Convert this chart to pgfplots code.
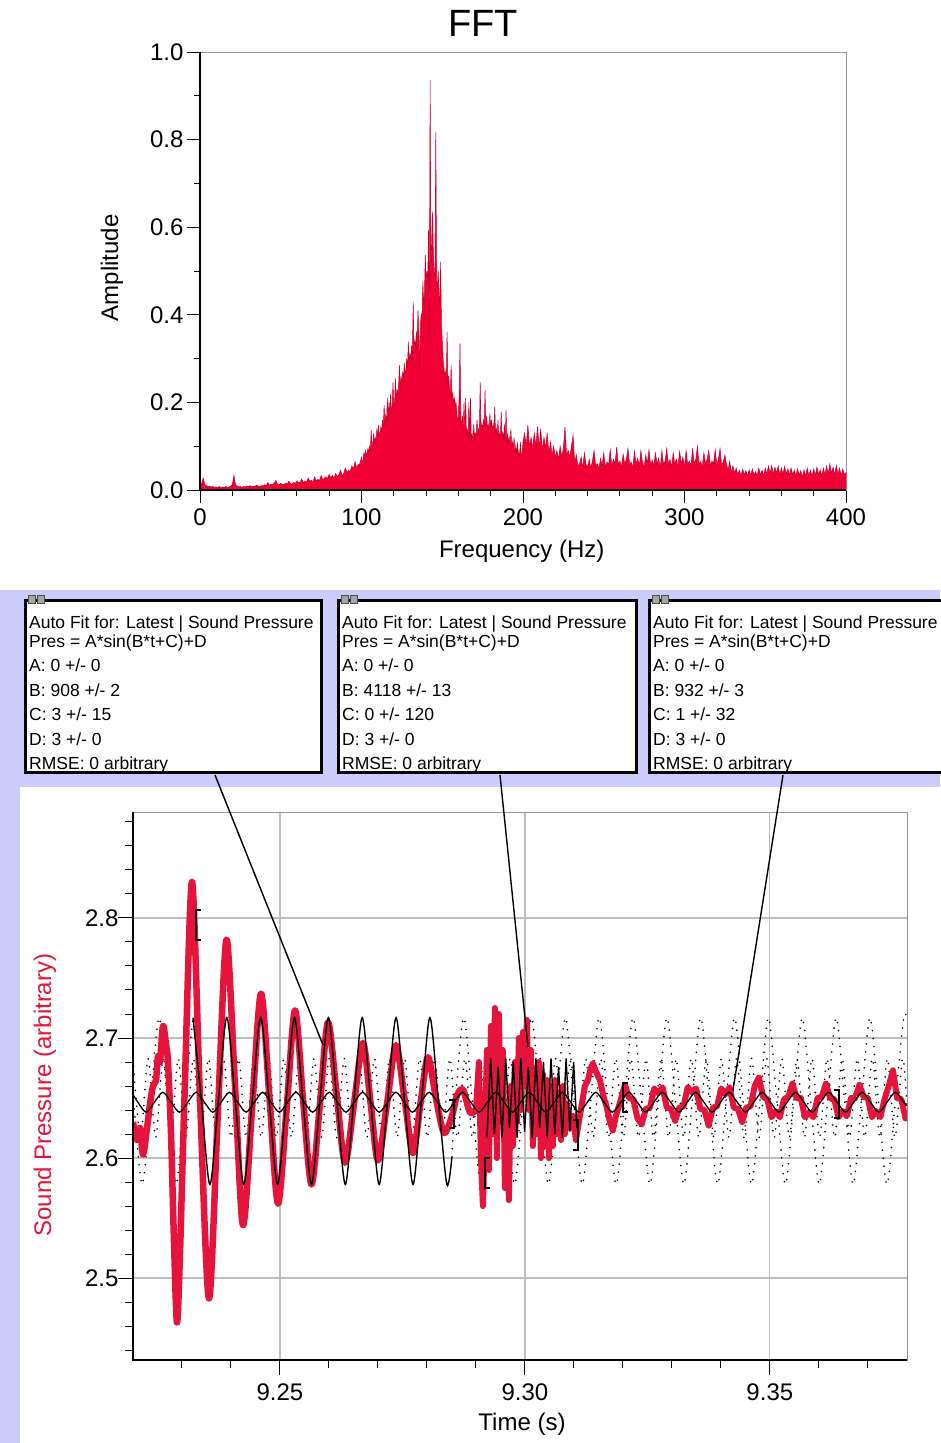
\documentclass[border=0pt]{standalone}
\usepackage{pgfplots}
\pgfplotsset{compat=1.18}
\usepackage{fontspec}
\setmainfont{Liberation Sans}
\definecolor{fftred}{RGB}{240,0,52}
\definecolor{spred}{RGB}{228,20,60}
\definecolor{lav}{RGB}{204,204,250}
\definecolor{gridgray}{RGB}{190,190,190}
\definecolor{framegray}{RGB}{150,150,150}
\newcommand\fs[1]{\fontsize{#1}{#1}\selectfont}
\begin{document}
\begin{tikzpicture}
\path[use as bounding box] (0pt,0pt) rectangle (940pt,-1443pt);
\begin{scope}[x=1pt,y=-1pt]
\fill[white] (0,0) rectangle (940,1443);
\fill[lav] (0,590) rectangle (940,1443);
\fill[white] (20,787) rectangle (940,1443);
\end{scope}
% ---------------- FFT ----------------
\begin{axis}[
  at={(200pt,-490pt)}, anchor=south west,
  width=646pt, height=438pt, scale only axis,
  xmin=0, xmax=400, ymin=0, ymax=1,
  xtick={0,100,200,300,400},
  ytick={0,0.2,0.4,0.6,0.8,1.0},
  minor xtick={20,40,60,80,120,140,160,180,220,240,260,280,320,340,360,380},
  minor ytick={0.1,0.3,0.5,0.7,0.9},
  tick pos=left, tick align=outside,
  major tick length=13pt, minor tick length=6pt,
  every tick/.style={black, line width=1pt},
  axis line style={draw=framegray, line width=1pt},
  /pgf/number format/assume math mode=true,
  tick label style={font=\fs{24}},
  xticklabel style={yshift=-2pt},
  yticklabel style={/pgf/number format/.cd, fixed, fixed zerofill, precision=1},
  scaled ticks=false,
  title={FFT},
  title style={at={(axis description cs:0.438,1.052)}, anchor=center, font=\fs{38}},
  xlabel={Frequency (Hz)}, ylabel={Amplitude},
  every axis x label/.style={at={(axis description cs:0.498,-0.1393)}, anchor=center, font=\fs{24}},
  every axis y label/.style={at={(axis description cs:-0.1362,0.507)}, anchor=center, rotate=90, font=\fs{24}},
  after end axis/.code={\draw[black, line width=1.2pt] (rel axis cs:0,1) -- (rel axis cs:0,0) -- (rel axis cs:1,0);},
]
\addplot[draw=fftred!85!black, line width=0.5pt, fill=fftred] coordinates {
(0,0.01)(1,0.015)(2,0.027)(3,0.012)(4,0.01)(5,0.008)(6,0.009)(7,0.007)(8,0.008)(9,0.006)(10,0.007)(11,0.006)(12,0.008)(13,0.005)(14,0.007)(15,0.006)(16,0.008)(17,0.006)(18,0.007)(19,0.009)(20,0.012)(21,0.034)(22,0.012)(23,0.009)(24,0.007)(25,0.008)(26,0.006)(27,0.008)(28,0.007)(29,0.009)(30,0.008)(31,0.01)(32,0.007)(33,0.009)(34,0.008)(35,0.011)(36,0.009)(37,0.008)(38,0.01)(39,0.009)(40,0.012)(41,0.01)(42,0.017)(43,0.011)(44,0.013)(45,0.012)(46,0.016)(47,0.022)(48,0.013)(49,0.012)(50,0.015)(51,0.013)(52,0.012)(53,0.016)(54,0.014)(55,0.02)(56,0.015)(57,0.013)(58,0.017)(59,0.015)(60,0.021)(61,0.016)(62,0.018)(63,0.025)(64,0.016)(65,0.02)(66,0.018)(67,0.027)(68,0.02)(69,0.022)(70,0.019)(71,0.03)(72,0.021)(73,0.024)(74,0.022)(75,0.033)(76,0.023)(77,0.027)(78,0.03)(79,0.026)(80,0.036)(81,0.028)(82,0.033)(83,0.027)(84,0.038)(85,0.03)(86,0.035)(87,0.045)(88,0.033)(89,0.038)(90,0.05)(91,0.04)(92,0.045)(93,0.042)(94,0.055)(95,0.048)(96,0.065)(97,0.05)(98,0.058)(99,0.06)
(100.0,0.075)(100.5,0.06)(101.0,0.07)(101.5,0.085)(102.0,0.075)(102.5,0.09)(103.0,0.08)(103.5,0.085)(104.0,0.095)(104.5,0.085)(105.0,0.1)(105.5,0.09)(106.0,0.137)(106.5,0.1)(107.0,0.105)(107.5,0.13)(108.0,0.105)(108.5,0.12)(109.0,0.11)(109.5,0.14)(110.0,0.12)(110.5,0.148)(111.0,0.125)(111.5,0.13)(112.0,0.145)(112.5,0.13)(113.0,0.16)(113.5,0.14)(114.0,0.194)(114.5,0.15)(115.0,0.17)(115.5,0.155)(116.0,0.21)(116.5,0.165)(117.0,0.2)(117.5,0.17)(118.0,0.22)(118.5,0.18)(119.0,0.19)(119.5,0.245)(120.0,0.195)(120.5,0.2)(121.0,0.255)(121.5,0.205)(122.0,0.23)(122.5,0.215)(123.0,0.24)(123.5,0.285)(124.0,0.23)(124.5,0.26)(125.0,0.24)(125.5,0.27)(126.0,0.255)(126.5,0.29)(127.0,0.26)(127.5,0.275)(128.0,0.3)(128.5,0.28)(129.0,0.339)(129.5,0.29)(130.0,0.31)(130.5,0.3)(131.0,0.33)(131.5,0.31)(132.0,0.43)(132.5,0.32)(133.0,0.34)(133.5,0.33)(134.0,0.36)(134.5,0.35)(135.0,0.41)(135.5,0.36)(136.0,0.27)(136.5,0.38)(137.0,0.4)(137.5,0.39)(138.0,0.476)(138.5,0.42)(139.0,0.45)(139.5,0.537)(140.0,0.47)(140.5,0.5)(141.0,0.48)(141.5,0.594)(142.0,0.33)(142.5,0.936)(143.0,0.52)(143.5,0.56)(144.0,0.635)(144.5,0.54)(145.0,0.5)(145.5,0.47)(146.0,0.818)(146.5,0.48)(147.0,0.46)(147.5,0.5)(148.0,0.45)(148.5,0.42)(149.0,0.52)(149.5,0.38)(150.0,0.34)(150.5,0.3)(151.0,0.28)(151.5,0.26)(152.0,0.27)(152.5,0.25)(153.0,0.361)(153.5,0.24)(154.0,0.26)(154.5,0.23)(155.0,0.22)(155.5,0.285)(156.0,0.21)(156.5,0.22)(157.0,0.2)(157.5,0.21)(158.0,0.19)(158.5,0.2)(159.0,0.18)(159.5,0.15)(160.0,0.17)(160.5,0.22)(161.0,0.335)(161.5,0.16)(162.0,0.15)(162.5,0.17)(163.0,0.14)(163.5,0.2)(164.0,0.13)(164.5,0.21)(165.0,0.12)(165.5,0.14)(166.0,0.115)(166.5,0.2)(167.0,0.12)(167.5,0.21)(168.0,0.11)(168.5,0.13)(169.0,0.105)(169.5,0.15)(170.0,0.12)(170.5,0.13)(171.0,0.125)(171.5,0.16)(172.0,0.13)(172.5,0.14)(173.0,0.135)(173.5,0.247)(174.0,0.135)(174.5,0.15)(175.0,0.14)(175.5,0.16)(176.0,0.145)(176.5,0.228)(177.0,0.14)(177.5,0.17)(178.0,0.14)(178.5,0.15)(179.0,0.135)(179.5,0.175)(180.0,0.14)(180.5,0.16)(181.0,0.135)(181.5,0.15)(182.0,0.13)(182.5,0.19)(183.0,0.13)(183.5,0.14)(184.0,0.125)(184.5,0.16)(185.0,0.12)(185.5,0.13)(186.0,0.12)(186.5,0.179)(187.0,0.115)(187.5,0.13)(188.0,0.115)(188.5,0.15)(189.0,0.11)(189.5,0.183)(190.0,0.11)(190.5,0.13)(191.0,0.105)(191.5,0.12)(192.0,0.1)(192.5,0.14)(193.0,0.1)(193.5,0.11)(194.0,0.095)(194.5,0.12)(195.0,0.085)(195.5,0.1)(196.0,0.08)(196.5,0.11)(197.0,0.075)(197.5,0.09)(198.0,0.07)(198.5,0.11)(199.0,0.075)(199.5,0.085)
(200,0.11)(201,0.13)(202,0.1)(203,0.148)(204,0.1)(205,0.12)(206,0.095)(207,0.13)(208,0.1)(209,0.145)(210,0.095)(211,0.14)(212,0.09)(213,0.12)(214,0.095)(215,0.13)(216,0.085)(217,0.11)(218,0.08)(219,0.1)(220,0.075)(221,0.09)(222,0.07)(223,0.1)(224,0.075)(225,0.095)(226,0.144)(227,0.08)(228,0.09)(229,0.075)(230,0.1)(231,0.125)(232,0.062)(233,0.08)(234,0.055)(235,0.06)(236,0.075)(237,0.05)(238,0.085)(239,0.058)(240,0.052)(241,0.07)(242,0.05)(243,0.066)(244,0.09)(245,0.055)(246,0.06)(247,0.048)(248,0.072)(249,0.056)(250,0.085)(251,0.052)(252,0.064)(253,0.058)(254,0.092)(255,0.055)(256,0.07)(257,0.06)(258,0.098)(259,0.058)(260,0.066)(261,0.052)(262,0.082)(263,0.06)(264,0.07)(265,0.095)(266,0.058)(267,0.064)(268,0.05)(269,0.088)(270,0.06)(271,0.072)(272,0.055)(273,0.09)(274,0.062)(275,0.052)(276,0.08)(277,0.06)(278,0.092)(279,0.058)(280,0.068)(281,0.055)(282,0.085)(283,0.06)(284,0.072)(285,0.05)(286,0.09)(287,0.058)(288,0.066)(289,0.094)(290,0.058)(291,0.07)(292,0.052)(293,0.085)(294,0.06)(295,0.07)(296,0.055)(297,0.088)(298,0.06)(299,0.075)(300,0.052)(301,0.09)(302,0.058)(303,0.066)(304,0.055)(305,0.095)(306,0.06)(307,0.07)(308,0.1)(309,0.058)(310,0.065)(311,0.052)(312,0.085)(313,0.06)(314,0.07)(315,0.09)(316,0.055)(317,0.066)(318,0.06)(319,0.092)(320,0.058)(321,0.07)(322,0.095)(323,0.056)(324,0.064)(325,0.08)(326,0.058)(327,0.045)(328,0.065)(329,0.04)(330,0.055)(331,0.038)(332,0.05)(333,0.036)(334,0.045)(335,0.033)(336,0.048)(337,0.035)(338,0.044)(339,0.032)(340,0.046)(341,0.033)(342,0.048)(343,0.035)(344,0.042)(345,0.032)(346,0.05)(347,0.035)(348,0.045)(349,0.033)(350,0.05)(351,0.036)(352,0.055)(353,0.038)(354,0.056)(355,0.036)(356,0.052)(357,0.038)(358,0.055)(359,0.035)(360,0.05)(361,0.036)(362,0.054)(363,0.037)(364,0.048)(365,0.034)(366,0.05)(367,0.035)(368,0.045)(369,0.032)(370,0.048)(371,0.034)(372,0.044)(373,0.03)(374,0.046)(375,0.032)(376,0.05)(377,0.033)(378,0.045)(379,0.031)(380,0.048)(381,0.034)(382,0.052)(383,0.035)(384,0.046)(385,0.032)(386,0.05)(387,0.035)(388,0.055)(389,0.036)(390,0.06)(391,0.038)(392,0.052)(393,0.034)(394,0.056)(395,0.036)(396,0.05)(397,0.033)(398,0.048)(399,0.035)(400,0.04)
} \closedcycle;
\end{axis}
% ---------------- Sound pressure ----------------
\begin{axis}[
  at={(133pt,-1360pt)}, anchor=south west,
  width=774pt, height=548pt, scale only axis,
  xmin=9.22, xmax=9.378, ymin=2.4317, ymax=2.8883,
  xtick={9.25,9.30,9.35}, ytick={2.5,2.6,2.7,2.8},
  minor xtick={9.23,9.24,9.26,9.27,9.28,9.29,9.31,9.32,9.33,9.34,9.36,9.37},
  minor ytick={2.44,2.46,2.48,2.52,2.54,2.56,2.58,2.62,2.64,2.66,2.68,2.72,2.74,2.76,2.78,2.82,2.84,2.86,2.88},
  tick pos=left, tick align=outside,
  major tick length=15pt, minor tick length=8pt,
  every tick/.style={black, line width=1pt},
  grid=major, major grid style={gridgray, line width=1.2pt},
  axis line style={draw=framegray, line width=1pt},
  /pgf/number format/assume math mode=true,
  tick label style={font=\fs{24}},
  xticklabel style={yshift=-5pt, /pgf/number format/.cd, fixed, fixed zerofill, precision=2},
  yticklabel style={xshift=4pt, /pgf/number format/.cd, fixed, fixed zerofill, precision=1},
  scaled ticks=false,
  xlabel={Time (s)}, ylabel={Sound Pressure (arbitrary)},
  every axis x label/.style={at={(axis description cs:0.5026,-0.1168)}, anchor=center, font=\fs{24}},
  every axis y label/.style={at={(axis description cs:-0.1137,0.4836)}, anchor=center, rotate=90, font=\fs{24}, text=spred},
  after end axis/.code={\draw[black, line width=1.2pt] (rel axis cs:0,1) -- (rel axis cs:0,0) -- (rel axis cs:1,0);},
]
% dotted extensions of fits
\addplot[black, line width=1.8pt, line cap=round, dash pattern=on 0pt off 8pt, smooth] coordinates {
(9.22000,2.683)(9.22154,2.617)(9.22308,2.683)(9.22462,2.617)(9.22616,2.683)(9.22770,2.617)(9.22924,2.683)(9.23078,2.617)(9.23232,2.683)(9.23386,2.617)(9.23540,2.683)(9.23694,2.617)(9.23848,2.683)(9.24002,2.617)(9.24156,2.683)(9.24310,2.617)(9.24464,2.683)(9.24618,2.617)(9.24772,2.683)(9.24926,2.617)(9.25080,2.683)(9.25234,2.617)(9.25388,2.683)(9.25542,2.617)(9.25696,2.683)(9.25850,2.617)(9.26004,2.683)(9.26158,2.617)(9.26312,2.683)(9.26466,2.617)(9.26620,2.683)(9.26774,2.617)(9.26928,2.683)(9.27082,2.617)(9.27236,2.683)(9.27390,2.617)(9.27544,2.683)(9.27698,2.617)(9.27852,2.683)(9.28006,2.617)(9.28160,2.683)(9.28314,2.617)(9.28468,2.683)(9.28622,2.617)(9.28776,2.683)(9.28930,2.617)(9.29084,2.683)(9.29238,2.617)(9.29392,2.683)(9.29546,2.617)(9.29700,2.683)(9.29854,2.617)(9.30008,2.683)(9.30162,2.617)(9.30316,2.683)(9.30470,2.617)(9.30624,2.683)(9.30778,2.617)(9.30932,2.683)(9.31086,2.617)(9.31240,2.683)(9.31394,2.617)(9.31548,2.683)(9.31702,2.617)(9.31856,2.683)(9.32010,2.617)(9.32164,2.683)(9.32318,2.617)(9.32472,2.683)(9.32626,2.617)(9.32780,2.683)(9.32934,2.617)(9.33088,2.683)(9.33242,2.617)(9.33396,2.683)(9.33550,2.617)(9.33704,2.683)(9.33858,2.617)(9.34012,2.683)(9.34166,2.617)(9.34320,2.683)(9.34474,2.617)(9.34628,2.683)(9.34782,2.617)(9.34936,2.683)(9.35090,2.617)(9.35244,2.683)(9.35398,2.617)(9.35552,2.683)(9.35706,2.617)(9.35860,2.683)(9.36014,2.617)(9.36168,2.683)(9.36322,2.617)(9.36476,2.683)(9.36630,2.617)(9.36784,2.683)(9.36938,2.617)(9.37092,2.683)(9.37246,2.617)(9.37400,2.683)(9.37554,2.617)(9.37708,2.683)(9.378,2.644)};
\addplot[black, line width=1.8pt, line cap=round, dash pattern=on 0pt off 8pt, smooth] coordinates {
(9.22014,2.6475)(9.22187,2.578)(9.22360,2.6475)(9.22533,2.717)(9.22706,2.6475)(9.22878,2.578)(9.23051,2.6475)(9.23224,2.717)};
\addplot[black, line width=1.8pt, line cap=round, dash pattern=on 0pt off 8pt, smooth] coordinates {
(9.2851,2.601)(9.28579,2.6475)(9.28752,2.717)(9.28925,2.6475)(9.29098,2.578)(9.29270,2.6475)(9.29443,2.717)(9.29616,2.6475)(9.29789,2.578)(9.29961,2.6475)(9.30134,2.717)(9.30307,2.6475)(9.30480,2.578)(9.30652,2.6475)(9.30825,2.717)(9.30998,2.6475)(9.31171,2.578)(9.31343,2.6475)(9.31516,2.717)(9.31689,2.6475)(9.31862,2.578)(9.32034,2.6475)(9.32207,2.717)(9.32380,2.6475)(9.32553,2.578)(9.32725,2.6475)(9.32898,2.717)(9.33071,2.6475)(9.33244,2.578)(9.33416,2.6475)(9.33589,2.717)(9.33762,2.6475)(9.33935,2.578)(9.34107,2.6475)(9.34280,2.717)(9.34453,2.6475)(9.34626,2.578)(9.34798,2.6475)(9.34971,2.717)(9.35144,2.6475)(9.35317,2.578)(9.35489,2.6475)(9.35662,2.717)(9.35835,2.6475)(9.36008,2.578)(9.36180,2.6475)(9.36353,2.717)(9.36526,2.6475)(9.36699,2.578)(9.36871,2.6475)(9.37044,2.717)(9.37217,2.6475)(9.37390,2.578)(9.37562,2.6475)(9.37735,2.717)(9.378,2.714)};
% measured sound pressure
\addplot[spred, line width=6.5pt, line join=round, smooth] coordinates {
(9.22000,2.630)(9.22082,2.615)(9.22143,2.625)(9.22204,2.603)(9.22286,2.625)(9.22347,2.645)(9.22408,2.660)(9.22469,2.665)(9.22510,2.685)(9.22551,2.680)(9.22612,2.710)(9.22673,2.695)(9.22714,2.680)(9.22776,2.620)(9.22837,2.530)(9.22898,2.463)(9.22959,2.520)(9.23051,2.650)(9.23204,2.830)(9.23367,2.650)(9.23551,2.483)(9.23735,2.640)(9.23908,2.782)(9.24082,2.660)(9.24245,2.544)(9.24429,2.640)(9.24612,2.737)(9.24786,2.650)(9.24959,2.562)(9.25133,2.640)(9.25306,2.723)(9.25469,2.650)(9.25643,2.578)(9.25816,2.645)(9.25980,2.713)(9.26153,2.655)(9.26327,2.596)(9.26510,2.645)(9.26694,2.696)(9.26847,2.647)(9.27000,2.598)(9.27184,2.645)(9.27367,2.694)(9.27541,2.650)(9.27714,2.604)(9.27867,2.645)(9.28020,2.684)(9.28184,2.650)(9.28347,2.621)(9.28510,2.635)(9.28612,2.652)(9.28735,2.657)(9.28878,2.638)(9.29000,2.640)};
\addplot[spred, line width=6pt, line join=round] coordinates {
(9.29000,2.64)(9.29061,2.68)(9.29102,2.60)(9.29143,2.56)(9.29184,2.62)(9.29224,2.69)(9.29265,2.59)(9.29306,2.71)(9.29347,2.62)(9.29388,2.725)(9.29429,2.60)(9.29469,2.72)(9.29510,2.63)(9.29551,2.69)(9.29592,2.575)(9.29633,2.64)(9.29673,2.565)(9.29714,2.66)(9.29755,2.61)(9.29796,2.68)(9.29837,2.63)(9.29878,2.70)(9.29918,2.64)(9.29959,2.705)(9.30000,2.66)(9.30041,2.715)(9.30082,2.64)(9.30122,2.69)(9.30163,2.61)(9.30204,2.675)(9.30245,2.62)(9.30286,2.68)(9.30327,2.60)(9.30367,2.67)(9.30408,2.61)(9.30449,2.665)(9.30490,2.60)(9.30531,2.66)(9.30571,2.61)(9.30612,2.665)(9.30653,2.62)(9.30694,2.655)(9.30735,2.615)(9.30776,2.66)(9.30816,2.62)(9.30857,2.645)(9.30918,2.625)(9.30980,2.635)(9.31041,2.615)(9.31102,2.63)(9.31163,2.645)(9.31224,2.66)(9.31286,2.665)(9.31347,2.675)(9.31388,2.679)(9.31449,2.672)(9.31531,2.665)(9.31612,2.65)(9.31673,2.642)(9.31735,2.63)(9.31796,2.623)(9.31857,2.635)(9.31939,2.646)
(9.32041,2.661)(9.32126,2.650)(9.32212,2.649)(9.32297,2.633)(9.32383,2.628)(9.32468,2.641)(9.32554,2.642)(9.32639,2.658)(9.32725,2.654)(9.32810,2.659)(9.32896,2.642)(9.32981,2.641)(9.33067,2.631)(9.33152,2.642)(9.33238,2.643)(9.33323,2.659)(9.33409,2.655)(9.33494,2.658)(9.33580,2.641)(9.33665,2.640)(9.33751,2.627)(9.33836,2.642)(9.33922,2.643)(9.34007,2.658)(9.34093,2.653)(9.34178,2.659)(9.34264,2.642)(9.34349,2.641)(9.34435,2.630)(9.34520,2.642)(9.34606,2.643)(9.34691,2.660)(9.34777,2.667)(9.34862,2.651)(9.34948,2.649)(9.35033,2.634)(9.35119,2.639)(9.35204,2.634)(9.35290,2.649)(9.35375,2.651)(9.35461,2.662)(9.35546,2.650)(9.35632,2.650)(9.35717,2.634)(9.35803,2.638)(9.35888,2.634)(9.35974,2.650)(9.36059,2.651)(9.36145,2.662)(9.36230,2.650)(9.36316,2.649)(9.36401,2.634)(9.36487,2.639)(9.36572,2.635)(9.36658,2.650)(9.36743,2.650)(9.36829,2.661)(9.36914,2.651)(9.37000,2.650)(9.37085,2.634)(9.37171,2.639)(9.37256,2.634)(9.37342,2.649)(9.37427,2.660)(9.37513,2.673)(9.37598,2.650)(9.37684,2.649)(9.37769,2.633)(9.37800,2.636)};
% fit 1 (solid)
\addplot[black, line width=1.4pt, smooth] coordinates {
(9.23224,2.717)(9.23397,2.6475)(9.23570,2.578)(9.23742,2.6475)(9.23915,2.717)(9.24088,2.6475)(9.24261,2.578)(9.24433,2.6475)(9.24606,2.717)(9.24779,2.6475)(9.24952,2.578)(9.25124,2.6475)(9.25297,2.717)(9.25470,2.6475)(9.25643,2.578)(9.25815,2.6475)(9.25988,2.717)(9.26161,2.6475)(9.26334,2.578)(9.26506,2.6475)(9.26679,2.717)(9.26852,2.6475)(9.27025,2.578)(9.27197,2.6475)(9.27370,2.717)(9.27543,2.6475)(9.27716,2.578)(9.27888,2.6475)(9.28061,2.717)(9.28234,2.6475)(9.28407,2.578)(9.2851,2.601)};
% fit 2 (solid)
\addplot[black, line width=1.4pt] coordinates {
(9.29224,2.617)(9.29301,2.683)(9.29378,2.620)(9.29455,2.676)(9.29532,2.617)(9.29609,2.683)(9.29686,2.625)(9.29763,2.680)(9.29840,2.617)(9.29917,2.683)(9.29994,2.622)(9.30071,2.676)(9.30148,2.617)(9.30225,2.683)(9.30302,2.625)(9.30379,2.680)(9.30456,2.617)(9.30533,2.683)(9.30610,2.620)(9.30687,2.676)(9.30764,2.617)(9.30841,2.683)(9.30918,2.622)(9.30995,2.680)(9.31061,2.625)};
% fit 3 (solid)
\addplot[black, line width=1.3pt, smooth] coordinates {
(9.22,2.653)(9.22099,2.6465)(9.22268,2.6382)(9.22438,2.6465)(9.22608,2.6548)(9.22778,2.6465)(9.22948,2.6382)(9.23118,2.6465)(9.23288,2.6548)(9.23458,2.6465)(9.23628,2.6382)(9.23798,2.6465)(9.23968,2.6548)(9.24138,2.6465)(9.24308,2.6382)(9.24478,2.6465)(9.24647,2.6548)(9.24817,2.6465)(9.24987,2.6382)(9.25157,2.6465)(9.25327,2.6548)(9.25497,2.6465)(9.25667,2.6382)(9.25837,2.6465)(9.26007,2.6548)(9.26177,2.6465)(9.26347,2.6382)(9.26517,2.6465)(9.26687,2.6548)(9.26857,2.6465)(9.27027,2.6382)(9.27197,2.6465)(9.27367,2.6548)(9.27537,2.6465)(9.27706,2.6382)(9.27876,2.6465)(9.28046,2.6548)(9.28216,2.6465)(9.28386,2.6382)(9.28556,2.6465)(9.28726,2.6548)(9.28896,2.6465)(9.29066,2.6382)(9.29236,2.6465)(9.29406,2.6548)(9.29576,2.6465)(9.29746,2.6382)(9.29916,2.6465)(9.30086,2.6548)(9.30256,2.6465)(9.30426,2.6382)(9.30596,2.6465)(9.30766,2.6548)(9.30935,2.6465)(9.31105,2.6382)(9.31275,2.6465)(9.31445,2.6548)(9.31615,2.6465)(9.31785,2.6382)(9.31955,2.6465)(9.32125,2.6548)(9.32295,2.6465)(9.32465,2.6382)(9.32635,2.6465)(9.32805,2.6548)(9.32975,2.6465)(9.33145,2.6382)(9.33315,2.6465)(9.33485,2.6548)(9.33655,2.6465)(9.33825,2.6382)(9.33994,2.6465)(9.34164,2.6548)(9.34334,2.6465)(9.34504,2.6382)(9.34674,2.6465)(9.34844,2.6548)(9.35014,2.6465)(9.35184,2.6382)(9.35354,2.6465)(9.35524,2.6548)(9.35694,2.6465)(9.35864,2.6382)(9.36034,2.6465)(9.36204,2.6548)(9.36374,2.6465)(9.36544,2.6382)(9.36714,2.6465)(9.36884,2.6548)(9.37054,2.6465)(9.37223,2.6382)(9.37393,2.6465)(9.37563,2.6548)(9.37733,2.6465)(9.378,2.6435)};
\end{axis}
% ---------------- annotations ----------------
\begin{scope}[x=1pt,y=-1pt]
% fit range brackets
\draw[black, line width=2.5pt] (201,910) -- (196,910) -- (196,940) -- (201,940);
\draw[black, line width=2.5pt] (449,1100) -- (454,1100) -- (454,1128) -- (449,1128);
\draw[black, line width=2.5pt] (490,1158) -- (485,1158) -- (485,1188) -- (490,1188);
\draw[black, line width=2.5pt] (573,1120) -- (578,1120) -- (578,1150) -- (573,1150);
\draw[black, line width=2.5pt] (628,1083) -- (623,1083) -- (623,1112) -- (628,1112);
\draw[black, line width=2.5pt] (834,1090) -- (839,1090) -- (839,1118) -- (834,1118);
% callout lines
\draw[black, line width=1.4pt] (215,775) -- (323,1045);
\draw[black, line width=1.4pt] (500,775) -- (528,1047);
\draw[black, line width=1.4pt] (783,775) -- (733,1090);
% boxes
\foreach \bx/\bw/\B/\C/\D in {25/296/{908 +/- 2}/{3 +/- 15}/{3 +/- 0}, 338/298/{4118 +/- 13}/{0 +/- 120}/{3 +/- 0}, 649/300/{932 +/- 3}/{1 +/- 32}/{3 +/- 0}}{
  \draw[black, line width=3pt, fill=white] (\bx,600) rectangle ++(\bw,172);
  \fill[gray!70] (\bx+3,595) rectangle ++(7,8);
  \fill[gray!70] (\bx+12,595) rectangle ++(7,8);
  \draw[black!70, line width=0.6pt] (\bx+3,595) rectangle ++(7,8);
  \draw[black!70, line width=0.6pt] (\bx+12,595) rectangle ++(7,8);
  \node[anchor=base west, inner sep=0pt, font=\fs{17.5}] at (\bx+4,628) {Auto Fit for: Latest | Sound Pressure};
  \node[anchor=base west, inner sep=0pt, font=\fs{17.5}] at (\bx+4,647) {Pres = A*sin(B*t+C)+D};
  \node[anchor=base west, inner sep=0pt, font=\fs{17.5}] at (\bx+4,671) {A: 0 +/- 0};
  \node[anchor=base west, inner sep=0pt, font=\fs{17.5}] at (\bx+4,696) {B: \B};
  \node[anchor=base west, inner sep=0pt, font=\fs{17.5}] at (\bx+4,720) {C: \C};
  \node[anchor=base west, inner sep=0pt, font=\fs{17.5}] at (\bx+4,745) {D: \D};
  \node[anchor=base west, inner sep=0pt, font=\fs{17.5}] at (\bx+4,769) {RMSE: 0 arbitrary};
}
\end{scope}
\end{tikzpicture}
\end{document}
